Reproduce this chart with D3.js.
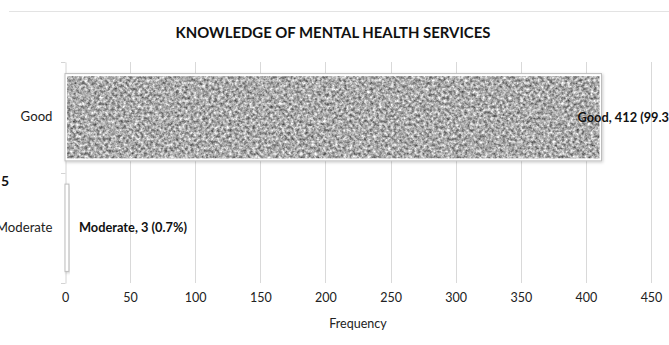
<!DOCTYPE html>
<html>
<head>
<meta charset="utf-8">
<script src="https://cdn.jsdelivr.net/npm/d3@7"></script>
<style>
  html, body { margin: 0; padding: 0; background: #fff; overflow: hidden; }
  svg { display: block; font-family: Lato, "Open Sans", sans-serif; }
</style>
</head>
<body>
<svg id="chart" width="669" height="345"></svg>
<script>
// Knowledge levels and their frequencies
const categories = ["Good", "Moderate"];
const frequencies = [412, 3];
const percents = ["99.3%", "0.7%"];
const xTicks = [0, 50, 100, 150, 200, 250, 300, 350, 400, 450];
const chartTitle = "KNOWLEDGE OF MENTAL HEALTH SERVICES";
const xTitle = "Frequency";

const svg = d3.select("#chart");
const W = 669, H = 345;
const plot = { left: 65, right: 651, top: 62, bottom: 283 };

const x = d3.scaleLinear().domain([0, 450]).range([plot.left, plot.right]);
const y = d3.scaleBand().domain(categories).range([plot.top, plot.bottom])
  .paddingInner(0.21).paddingOuter(0.105);

// grainy grey texture used as the bar fill
const defs = svg.append("defs");
const tex = defs.append("filter").attr("id", "grain")
  .attr("x", 0).attr("y", 0).attr("width", 1).attr("height", 1)
  .attr("color-interpolation-filters", "sRGB");
tex.append("feTurbulence").attr("type", "fractalNoise")
  .attr("baseFrequency", "0.34").attr("numOctaves", 3).attr("seed", 7)
  .attr("result", "noise");
tex.append("feColorMatrix").attr("in", "noise").attr("type", "matrix")
  .attr("values", "1.0 0 0 0 0.17  1.0 0 0 0 0.17  1.0 0 0 0 0.17  0 0 0 0 1")
  .attr("result", "grey");
tex.append("feGaussianBlur").attr("in", "grey").attr("stdDeviation", 0.6).attr("result", "soft");
tex.append("feComposite").attr("in", "soft").attr("in2", "SourceGraphic").attr("operator", "in");

const shadow = defs.append("filter").attr("id", "shadow")
  .attr("x", -0.2).attr("y", -0.2).attr("width", 1.4).attr("height", 1.4);
shadow.append("feDropShadow").attr("dx", 1).attr("dy", 1).attr("stdDeviation", 1.8)
  .attr("flood-color", "#000").attr("flood-opacity", 0.22);

// thin rule across the top of the frame
svg.append("line").attr("x1", 9).attr("x2", W).attr("y1", 11.5).attr("y2", 11.5)
  .attr("stroke", "#e3e3e3").attr("stroke-width", 1);

// title
svg.append("text").attr("x", 333).attr("y", 38).attr("text-anchor", "middle")
  .attr("font-weight", 700).attr("font-size", 14.9).attr("fill", "#111")
  .text(chartTitle);

// vertical gridlines
svg.append("g").selectAll("line").data(xTicks.slice(1)).join("line")
  .attr("x1", d => Math.round(x(d)) + 0.5).attr("x2", d => Math.round(x(d)) + 0.5)
  .attr("y1", plot.top).attr("y2", plot.bottom)
  .attr("stroke", "#d9d9d9").attr("stroke-width", 1);

// x axis tick labels
const xAxis = d3.axisBottom(x).tickValues(xTicks).tickSize(0).tickPadding(0);
const gx = svg.append("g").attr("transform", `translate(0,${plot.bottom + 10})`).call(xAxis);
gx.select(".domain").remove();
gx.selectAll("text").attr("font-size", 12.5).attr("fill", "#222")
  .attr("font-family", "Lato, sans-serif").attr("dy", "0.71em");

svg.append("text").attr("x", (plot.left + plot.right) / 2).attr("y", 328)
  .attr("text-anchor", "middle").attr("font-size", 12.5).attr("fill", "#222").text(xTitle);

// category axis
const yAxis = d3.axisLeft(y).tickSize(0).tickPadding(13);
const gy = svg.append("g").attr("transform", `translate(${plot.left + 0.5},0)`).call(yAxis);
gy.select(".domain").attr("stroke", "#d4d4d4");
gy.selectAll("text").attr("font-size", 13.2).attr("fill", "#222")
  .attr("font-family", "Lato, sans-serif");
// band boundary tick marks
const bounds = [plot.top, (plot.top + plot.bottom) / 2, plot.bottom];
svg.append("g").selectAll("line").data(bounds).join("line")
  .attr("x1", plot.left - 4).attr("x2", plot.left + 0.5)
  .attr("y1", d => Math.round(d) + 0.5).attr("y2", d => Math.round(d) + 0.5)
  .attr("stroke", "#d4d4d4");

// bars: outlined frame with a textured core
const rows = categories.map((c, i) => ({ cat: c, v: frequencies[i], p: percents[i] }));
const bars = svg.append("g").selectAll("g").data(rows).join("g");
bars.append("rect")
  .attr("x", x(0)).attr("y", d => y(d.cat))
  .attr("width", d => x(d.v) - x(0)).attr("height", y.bandwidth())
  .attr("fill", "#fff").attr("stroke", "#bdbdbd").attr("stroke-width", 1)
  .attr("filter", "url(#shadow)");
bars.append("rect")
  .attr("x", x(0) + 2).attr("y", d => y(d.cat) + 2.5)
  .attr("width", d => Math.max(0, x(d.v) - x(0) - 4)).attr("height", y.bandwidth() - 5)
  .attr("fill", "#888").attr("filter", "url(#grain)");

// data labels
bars.append("text")
  .attr("x", d => d.v > 200 ? x(d.v) - 24 : x(d.v) + 10)
  .attr("y", d => y(d.cat) + y.bandwidth() / 2)
  .attr("dy", "0.35em")
  .attr("font-weight", 700).attr("font-size", 12.8).attr("fill", "#111")
  .text(d => `${d.cat}, ${d.v} (${d.p})`);

// stray clipped label at the left edge
svg.append("text").attr("x", 9).attr("y", 186).attr("text-anchor", "end")
  .attr("font-weight", 700).attr("font-size", 14).attr("fill", "#111").text("5");
</script>
</body>
</html>
